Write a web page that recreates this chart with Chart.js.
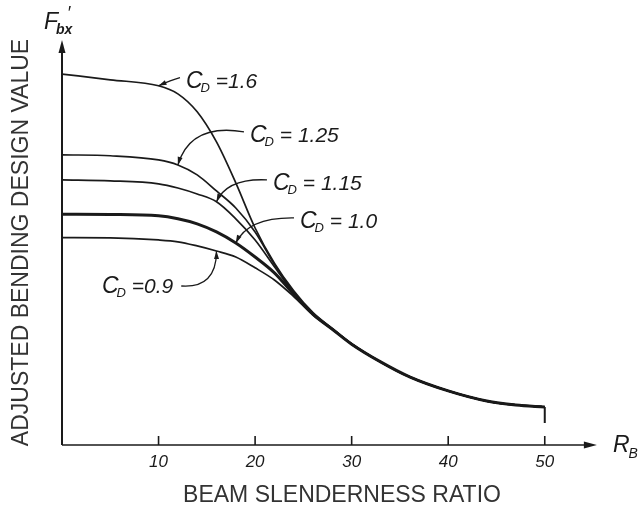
<!DOCTYPE html>
<html>
<head>
<meta charset="utf-8">
<script src="https://cdn.jsdelivr.net/npm/chart.js@4.4.0/dist/chart.umd.min.js"></script>
<style>
  html, body { margin: 0; padding: 0; background: #ffffff; }
  #wrap { width: 644px; height: 510px; }
</style>
</head>
<body>
<div id="wrap"><canvas id="c" width="644" height="510"></canvas></div>
<script>
// ---- data ----
const rb = [0, 5, 10, 12, 14, 16, 18, 20, 22, 24, 26, 28, 30, 33, 36, 40, 44, 47, 50];
const cd16  = [1.612, 1.587, 1.561, 1.526, 1.448, 1.317, 1.139, 0.943, 0.790, 0.670, 0.575, 0.506, 0.440, 0.361, 0.296, 0.235, 0.191, 0.174, 0.165];
const cd125 = [1.261, 1.257, 1.239, 1.217, 1.174, 1.104, 1.030, 0.926, 0.785, 0.665, 0.572, 0.505, 0.439, 0.361, 0.296, 0.235, 0.191, 0.174, 0.165];
const cd115 = [1.152, 1.148, 1.135, 1.117, 1.091, 1.057, 0.983, 0.891, 0.775, 0.660, 0.570, 0.504, 0.439, 0.361, 0.296, 0.235, 0.191, 0.174, 0.165];
const cd10  = [1.003, 1.002, 0.996, 0.983, 0.961, 0.926, 0.878, 0.817, 0.748, 0.655, 0.568, 0.503, 0.438, 0.361, 0.296, 0.235, 0.191, 0.174, 0.165];
const cd09  = [0.901, 0.900, 0.891, 0.883, 0.865, 0.843, 0.817, 0.770, 0.717, 0.645, 0.565, 0.502, 0.437, 0.361, 0.296, 0.235, 0.191, 0.174, 0.165];
const cutoffX = [50, 50];
const cutoffY = [0.165, 0.096];
const xTicks = [10, 20, 30, 40, 50];
const seriesNames = ['1.6', '1.25', '1.15', '1.0', '0.9'];
const labelText = [' =1.6', ' = 1.25', ' = 1.15', ' = 1.0', ' =0.9'];
// label anchor (data units), target point index, leader control point (data units)
const labelX = [12.84, 19.47, 21.85, 24.65, 4.14];
const labelY = [1.583, 1.348, 1.139, 0.974, 0.691];
const targetIdx = [2, 3, 5, 6, 5];
const ctrlX = [11.3, 13.3, 17.1, 19.3, 16.0];
const ctrlY = [1.585, 1.40, 1.16, 0.99, 0.68];
const xAxisEnd = 55.4;

const INK = '#1a1a1a';
const FONT = "'Liberation Sans', Arial, sans-serif";

function pts(ys) { return rb.map((x, i) => ({ x: x, y: ys[i] })); }
const allSeries = [cd16, cd125, cd115, cd10, cd09];

const datasets = allSeries.map((ys, i) => ({
  label: 'C_D = ' + seriesNames[i],
  data: pts(ys),
  borderColor: INK,
  borderWidth: i === 3 ? 3 : 1.7,
  pointRadius: 0,
  fill: false,
  cubicInterpolationMode: 'monotone'
}));
datasets.push({
  label: 'limit',
  data: cutoffX.map((x, i) => ({ x: x, y: cutoffY[i] })),
  borderColor: INK,
  borderWidth: 2,
  pointRadius: 0,
  fill: false
});

function arrowHead(ctx, x, y, angle, len, wid) {
  ctx.save();
  ctx.translate(x, y);
  ctx.rotate(angle);
  ctx.beginPath();
  ctx.moveTo(0, 0);
  ctx.lineTo(-len, wid / 2);
  ctx.lineTo(-len, -wid / 2);
  ctx.closePath();
  ctx.fill();
  ctx.restore();
}

const decor = {
  id: 'decor',
  afterDatasetsDraw(chart) {
    const ctx = chart.ctx;
    const xs = chart.scales.x, ys = chart.scales.y;
    const ca = chart.chartArea;
    ctx.save();
    ctx.strokeStyle = INK;
    ctx.fillStyle = INK;
    ctx.lineCap = 'butt';

    // y axis with arrow
    ctx.lineWidth = 2;
    ctx.beginPath();
    ctx.moveTo(ca.left, ca.bottom);
    ctx.lineTo(ca.left, ca.top + 6);
    ctx.stroke();
    arrowHead(ctx, ca.left, ca.top, -Math.PI / 2, 13, 7);

    // x axis with arrow
    const xEnd = xs.getPixelForValue(xAxisEnd);
    ctx.lineWidth = 1.6;
    ctx.beginPath();
    ctx.moveTo(ca.left, ca.bottom);
    ctx.lineTo(xEnd - 6, ca.bottom);
    ctx.stroke();
    arrowHead(ctx, xEnd, ca.bottom, 0, 13, 7);

    // inside tick marks
    ctx.lineWidth = 1.6;
    xTicks.forEach(v => {
      const px = xs.getPixelForValue(v);
      ctx.beginPath();
      ctx.moveTo(px, ca.bottom);
      ctx.lineTo(px, ca.bottom - 9);
      ctx.stroke();
    });

    // curve labels with leaders
    ctx.lineWidth = 1.3;
    for (let i = 0; i < seriesNames.length; i++) {
      const lx = xs.getPixelForValue(labelX[i]);
      const ly = ys.getPixelForValue(labelY[i]);
      const t = allSeries[i];
      const tx = xs.getPixelForValue(rb[targetIdx[i]]);
      const ty = ys.getPixelForValue(t[targetIdx[i]]);
      const cx = xs.getPixelForValue(ctrlX[i]);
      const cy = ys.getPixelForValue(ctrlY[i]);
      ctx.textBaseline = 'alphabetic';
      ctx.textAlign = 'left';
      const base = ly + 7;
      ctx.font = 'italic 23px ' + FONT;
      ctx.fillText('C', lx, base);
      let w = ctx.measureText('C').width;
      ctx.font = 'italic 13px ' + FONT;
      ctx.fillText('D', lx + w - 2, base + 4);
      w += ctx.measureText('D').width - 2;
      ctx.font = 'italic 21px ' + FONT;
      ctx.fillText(labelText[i], lx + w, base);
      const tw = ctx.measureText(labelText[i]).width;
      let sx, sy;
      if (i === 4) { sx = lx + w + tw + 8; sy = ly; }
      else { sx = lx - 6; sy = ly - 3; }
      ctx.beginPath();
      ctx.moveTo(sx, sy);
      ctx.quadraticCurveTo(cx, cy, tx, ty);
      ctx.stroke();
      const ang = Math.atan2(ty - cy, tx - cx);
      arrowHead(ctx, tx, ty, ang, 8, 5);
    }

    // F'bx label over y axis
    ctx.textAlign = 'left';
    ctx.font = 'italic 23px ' + FONT;
    ctx.fillText('F', ca.left - 18, ca.top - 11);
    ctx.font = 'italic 18px ' + FONT;
    ctx.fillText('\u2032', ca.left + 5, ca.top - 21);
    ctx.font = 'italic bold 14px ' + FONT;
    ctx.fillText('bx', ca.left - 6, ca.top - 6);

    // R_B label at end of x axis
    ctx.font = 'italic 23px ' + FONT;
    ctx.fillText('R', xEnd + 16, ca.bottom + 7);
    const rw = ctx.measureText('R').width;
    ctx.font = 'italic 14px ' + FONT;
    ctx.fillText('B', xEnd + 15 + rw, ca.bottom + 13);
    ctx.restore();
  }
};

new Chart(document.getElementById('c'), {
  type: 'line',
  data: { datasets: datasets },
  options: {
    responsive: false,
    animation: false,
    devicePixelRatio: 1,
    layout: { padding: { top: 40, right: 22, bottom: 0, left: 0 } },
    plugins: { legend: { display: false }, tooltip: { enabled: false } },
    scales: {
      x: {
        type: 'linear',
        min: 0,
        max: 58,
        afterBuildTicks: s => { s.ticks = xTicks.map(v => ({ value: v })); },
        afterFit: s => { s.height = 65; },
        grid: { display: false, drawTicks: false },
        border: { display: false },
        ticks: {
          color: INK,
          padding: 7,
          maxRotation: 0,
          font: { family: FONT, size: 17, style: 'italic' }
        },
        title: {
          display: true,
          text: 'BEAM SLENDERNESS RATIO',
          color: '#333',
          font: { family: FONT, size: 23 },
          padding: { top: 0, bottom: 1 }
        }
      },
      y: {
        type: 'linear',
        min: 0,
        max: 1.76,
        afterFit: s => { s.width = 62; },
        grid: { display: false, drawTicks: false },
        border: { display: false },
        ticks: { display: false },
        title: {
          display: true,
          text: 'ADJUSTED BENDING DESIGN VALUE',
          color: '#333',
          font: { family: FONT, size: 23 },
          padding: { top: 8, bottom: 0 }
        }
      }
    }
  },
  plugins: [decor]
});
</script>
</body>
</html>
